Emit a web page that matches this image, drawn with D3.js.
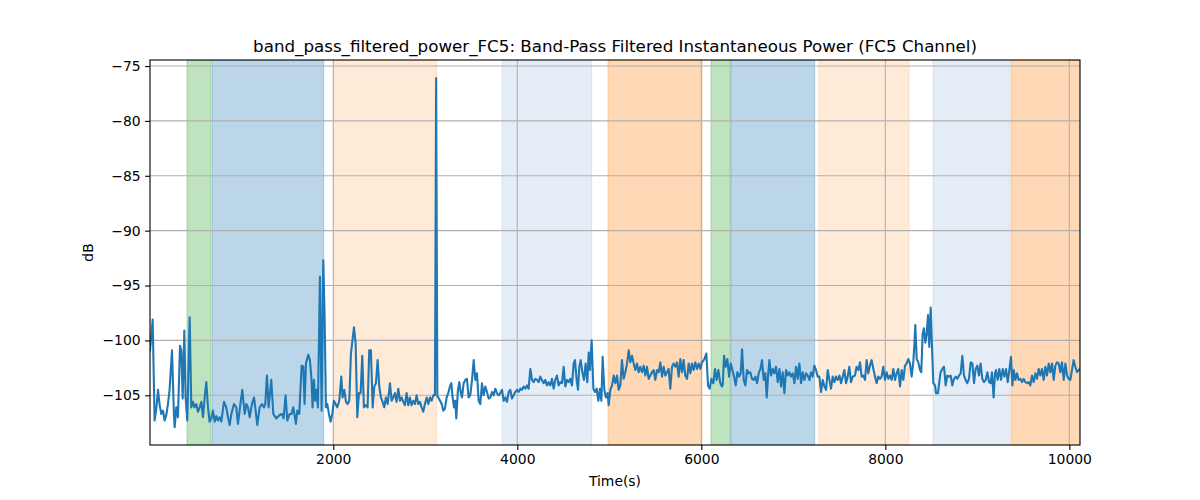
<!DOCTYPE html>
<html>
<head>
<meta charset="utf-8">
<script src="https://cdn.jsdelivr.net/npm/d3@7"></script>
<style>
  body { margin: 0; background: #fff; }
  text { font-family: "DejaVu Sans", sans-serif; fill: #000; }
</style>
</head>
<body>
<div id="chart"></div>
<script>
// time (s) and power (dB)
const fc5Power = [
  [8,-100.9],[37,-98.1],[58,-107.3],[77,-106.2],[95,-104.5],[113,-105.9],[131,-106.7],[149,-106.4],[167,-107.3],[185,-106.8],
  [203,-105.8],[221,-104.5],[247,-100.9],[268,-106.7],[276,-107.9],[294,-106.1],[312,-107.0],[334,-100.5],[348,-100.9],[363,-105.3],
  [381,-99.1],[395,-105.2],[413,-107.3],[439,-97.9],[457,-106.1],[475,-105.6],[493,-106.1],[511,-105.8],[529,-106.5],[548,-106.1],
  [566,-105.6],[584,-107.0],[602,-105.2],[620,-103.8],[638,-106.1],[656,-107.4],[674,-107.1],[692,-106.4],[711,-107.4],[729,-106.9],
  [747,-107.3],[765,-107.0],[783,-107.4],[812,-105.6],[837,-106.1],[856,-107.0],[874,-107.7],[892,-106.7],[921,-105.8],[946,-106.1],
  [964,-107.6],[986,-106.1],[1011,-104.5],[1037,-106.7],[1055,-105.8],[1073,-106.1],[1091,-107.0],[1116,-105.8],[1138,-105.2],[1152,-106.1],
  [1174,-107.7],[1200,-106.1],[1225,-105.8],[1247,-106.1],[1261,-105.8],[1279,-103.2],[1297,-106.1],[1326,-103.6],[1348,-106.7],[1381,-107.1],
  [1417,-106.8],[1442,-106.7],[1460,-107.1],[1482,-105.0],[1500,-107.3],[1526,-106.7],
  [1547,-106.7],[1565,-106.1],[1583,-107.0],[1594,-107.6],[1609,-106.4],[1630,-106.7],[1656,-102.3],[1674,-102.4],[1688,-105.8],[1703,-102.1],
  [1728,-101.3],[1746,-101.8],[1764,-103.6],[1775,-106.1],[1790,-103.6],[1804,-105.5],[1819,-104.5],[1833,-106.1],[1855,-94.2],[1873,-106.4],
  [1891,-92.7],[1906,-97.9],[1920,-106.1],[1935,-105.8],[1953,-106.7],[1971,-107.4],[1989,-106.7],[2007,-105.5],[2025,-105.8],[2043,-106.1],
  [2065,-105.5],[2087,-103.3],[2101,-105.2],[2120,-104.5],[2138,-105.6],[2156,-105.8],[2174,-105.5],[2192,-101.2],[2225,-98.8],[2243,-100.3],
  [2261,-107.0],[2279,-104.8],[2297,-104.8],[2315,-101.4],[2333,-106.1],[2355,-105.9],[2373,-106.1],[2391,-100.9],[2409,-100.9],[2428,-106.1],
  [2446,-104.2],[2464,-103.9],[2482,-101.8],[2500,-104.2],[2518,-105.2],[2536,-105.6],[2554,-106.1],[2572,-105.2],[2591,-105.8],[2616,-103.9],
  [2634,-105.5],[2652,-105.2],[2670,-104.8],[2688,-105.6],[2707,-104.4],[2725,-105.5],[2743,-105.2],[2761,-105.6],[2779,-105.9],[2797,-104.8],
  [2815,-105.9],[2833,-105.2],[2851,-105.9],[2870,-105.5],[2888,-105.8],[2906,-105.0],[2924,-105.8],[2942,-105.6],[2960,-106.1],[2978,-106.5],
  [2996,-105.8],[3015,-105.2],[3033,-105.8],[3051,-105.2],[3069,-105.5],[3087,-105.0],[3105,-105.0],[3118,-76.1],[3131,-105.1],[3142,-105.2],
  [3160,-105.5],[3178,-105.8],[3196,-106.4],[3214,-106.2],[3232,-105.2],[3250,-104.8],[3268,-104.2],[3283,-103.9],[3297,-105.2],[3312,-106.1],
  [3326,-105.5],[3337,-107.1],[3355,-104.5],[3370,-103.8],[3384,-104.7],[3399,-105.2],[3417,-103.9],[3435,-103.6],[3453,-103.5],[3471,-105.2],
  [3489,-105.0],[3508,-103.6],[3526,-101.8],[3544,-103.6],[3562,-103.0],[3580,-105.5],[3598,-105.8],[3616,-103.9],[3634,-105.0],[3652,-104.2],
  [3671,-104.7],[3689,-105.3],[3707,-105.2],[3725,-104.7],[3743,-105.0],[3761,-104.4],[3779,-104.8],[3797,-105.0],[3815,-104.8],[3834,-104.5],
  [3852,-105.5],[3870,-105.2],[3888,-105.6],[3906,-104.7],[3924,-104.5],[3942,-105.3],[3960,-105.0],[3978,-104.7],[3997,-104.5],[4015,-104.7],
  [4033,-104.4],[4051,-104.5],[4069,-104.2],[4087,-104.4],[4105,-104.1],[4123,-104.4],[4142,-102.6],[4160,-103.6],[4178,-103.8],[4196,-103.5],
  [4214,-103.6],[4232,-103.8],[4250,-103.3],[4268,-103.6],[4286,-103.9],[4304,-103.6],[4323,-104.1],[4341,-103.8],[4359,-104.1],[4377,-103.5],
  [4395,-104.4],[4413,-103.6],[4431,-103.2],[4449,-104.1],[4468,-103.8],[4486,-103.9],[4504,-102.4],[4522,-104.2],[4540,-103.6],[4558,-103.8],
  [4576,-103.5],[4594,-104.1],[4613,-102.1],[4627,-101.8],[4645,-103.6],[4660,-104.5],[4674,-102.4],[4689,-101.8],[4707,-102.9],[4725,-103.6],
  [4743,-102.1],[4761,-103.8],[4776,-101.1],[4790,-102.7],[4808,-100.0],[4827,-104.4],[4845,-104.7],[4863,-104.4],[4881,-105.5],[4899,-104.4],
  [4914,-105.5],[4928,-101.5],[4946,-104.5],[4964,-105.2],[4982,-104.8],[4993,-105.9],[5011,-104.5],[5030,-104.1],[5048,-103.2],[5066,-103.9],
  [5084,-103.2],[5102,-104.5],[5120,-104.1],[5138,-101.8],[5156,-103.5],[5174,-102.9],[5193,-102.1],[5211,-100.9],[5229,-102.0],[5247,-101.4],
  [5265,-102.1],[5283,-102.7],[5301,-102.1],[5319,-102.9],[5337,-102.4],[5356,-102.9],[5374,-102.3],[5392,-103.2],[5410,-102.4],[5428,-103.5],
  [5446,-103.2],[5464,-102.9],[5482,-102.7],[5500,-103.6],[5519,-102.7],[5537,-102.9],[5555,-102.0],[5573,-103.3],[5591,-102.4],[5609,-103.2],
  [5627,-102.9],[5645,-102.6],[5663,-104.4],[5682,-102.4],[5700,-102.1],[5718,-102.4],[5736,-102.0],[5754,-103.3],[5772,-101.7],[5790,-102.9],
  [5808,-101.8],[5826,-103.2],[5845,-103.5],[5863,-102.1],[5881,-103.0],[5899,-102.1],[5917,-102.7],[5935,-102.0],[5953,-102.6],[5972,-102.1],
  [5990,-102.6],[6008,-102.0],[6033,-101.7],[6055,-101.2],[6073,-104.1],[6091,-104.4],[6109,-103.5],[6131,-103.9],[6149,-102.6],[6167,-103.6],
  [6186,-102.7],[6204,-103.8],[6222,-104.2],[6233,-104.1],[6247,-101.4],[6265,-102.4],[6283,-101.7],[6302,-103.3],[6320,-102.1],[6338,-102.7],
  [6356,-103.3],[6374,-104.1],[6392,-102.9],[6410,-103.3],[6428,-103.0],[6443,-100.8],[6461,-103.6],[6479,-104.1],[6497,-102.7],[6515,-103.0],
  [6533,-102.9],[6551,-103.5],[6570,-103.6],[6588,-103.3],[6606,-103.9],[6624,-103.0],[6642,-102.6],[6660,-101.8],[6678,-103.6],[6696,-103.0],
  [6711,-105.2],[6725,-103.3],[6740,-101.8],[6758,-103.2],[6776,-102.6],[6794,-103.0],[6812,-102.4],[6831,-103.8],[6849,-102.6],[6867,-104.2],
  [6885,-102.9],[6903,-104.8],[6921,-102.7],[6939,-103.2],[6957,-102.9],[6975,-103.3],[6994,-103.0],[7012,-103.9],[7030,-102.4],[7048,-103.5],
  [7066,-102.1],[7084,-103.9],[7102,-102.9],[7120,-103.6],[7138,-103.0],[7157,-103.2],[7175,-103.6],[7193,-102.9],[7211,-103.3],[7229,-102.3],
  [7247,-102.7],[7265,-103.3],[7283,-103.3],[7301,-104.7],[7320,-103.6],[7338,-104.2],[7356,-104.5],[7374,-102.7],[7392,-103.6],[7410,-104.4],
  [7428,-103.3],[7446,-103.8],[7464,-103.3],[7483,-103.6],[7501,-103.2],[7519,-103.9],[7537,-103.3],[7555,-102.7],[7573,-103.9],[7591,-103.3],
  [7609,-102.4],[7627,-103.8],[7646,-103.3],[7670,-103.2],[7688,-102.4],[7707,-102.7],[7725,-102.0],[7743,-103.3],[7761,-103.2],[7779,-103.6],
  [7797,-101.8],[7815,-103.0],[7833,-102.3],[7851,-101.8],[7870,-102.6],[7888,-103.3],[7906,-103.9],[7924,-103.3],[7942,-103.5],[7960,-103.3],
  [7978,-102.4],[7996,-103.6],[8015,-102.9],[8033,-103.5],[8051,-103.2],[8069,-103.6],[8087,-102.6],[8105,-103.6],[8123,-103.0],[8141,-102.6],
  [8160,-104.2],[8178,-102.7],[8196,-103.6],[8214,-102.3],[8232,-102.1],[8250,-101.7],[8268,-102.1],[8286,-103.3],[8304,-102.0],[8315,-100.5],
  [8326,-98.6],[8341,-101.7],[8359,-102.0],[8377,-102.7],[8391,-102.9],[8406,-99.4],[8420,-98.9],[8435,-100.2],[8449,-99.5],[8464,-97.7],
  [8478,-100.6],[8493,-97.0],[8507,-100.5],[8522,-103.9],[8540,-104.1],[8551,-104.8],[8572,-104.8],[8587,-103.8],[8601,-102.9],[8620,-102.6],
  [8638,-102.4],[8656,-104.1],[8674,-103.2],[8692,-103.3],[8710,-103.2],[8728,-104.1],[8746,-103.5],[8765,-103.3],[8783,-103.5],[8801,-103.2],
  [8819,-103.0],[8837,-101.4],[8855,-103.2],[8873,-103.6],[8891,-103.9],[8909,-103.5],[8928,-102.0],[8946,-102.1],[8964,-103.9],[8982,-102.6],
  [9000,-102.3],[9018,-103.2],[9036,-102.1],[9054,-103.5],[9072,-103.8],[9091,-103.6],[9109,-102.9],[9127,-103.8],[9145,-103.9],[9159,-102.9],
  [9177,-105.2],[9192,-103.0],[9203,-102.7],[9221,-103.6],[9239,-102.6],[9258,-103.6],[9276,-102.6],[9294,-103.3],[9312,-102.6],[9330,-103.8],
  [9348,-102.7],[9366,-101.5],[9381,-104.1],[9395,-102.7],[9413,-103.6],[9431,-103.0],[9450,-103.6],[9468,-103.5],[9486,-103.8],[9504,-103.5],
  [9522,-103.8],[9540,-103.9],[9558,-103.8],[9576,-104.1],[9594,-103.2],[9613,-103.8],[9631,-103.0],[9649,-103.5],[9667,-102.6],[9685,-103.2],
  [9703,-102.6],[9721,-103.6],[9739,-102.4],[9757,-103.2],[9776,-102.1],[9794,-102.9],[9812,-102.1],[9830,-103.6],[9848,-102.3],[9866,-102.0],
  [9884,-102.1],[9902,-102.9],[9920,-102.0],[9939,-103.6],[9957,-102.1],[9975,-103.2],[9993,-103.5],[10011,-103.6],[10029,-102.7],[10047,-101.8],
  [10065,-102.4],[10084,-102.9],[10102,-102.7],[10116,-102.6]
];

// shaded intervals
const spanStart = [410, 682, 2000, 3834, 4986, 6105, 6322, 7276, 8518, 9366];
const spanEnd   = [670, 1896, 3124, 4809, 6008, 6315, 7232, 8258, 9352, 10116];
const spanKind  = ["green", "blue", "lightOrange", "lightBlue", "orange", "green", "blue", "lightOrange", "lightBlue", "orange"];

const xTicks = [2000, 4000, 6000, 8000, 10000];
const yTicks = [-105, -100, -95, -90, -85, -80, -75];
const yLimits = [-109.53, -74.45];

const kindStyle = {
  green:       { color: "#2ca02c", alpha: 0.3 },
  blue:        { color: "#1f77b4", alpha: 0.3 },
  lightOrange: { color: "#ff7f0e", alpha: 0.16 },
  lightBlue:   { color: "#4a86c8", alpha: 0.14 },
  orange:      { color: "#ff7f0e", alpha: 0.3 }
};

const W = 1200, H = 500;
const margin = { top: 60, right: 120, bottom: 55, left: 150 };
const plotW = W - margin.left - margin.right;
const plotH = H - margin.top - margin.bottom;

const svg = d3.select("#chart").append("svg")
  .attr("width", W)
  .attr("height", H);

const x = d3.scaleLinear()
  .domain(d3.extent(fc5Power, d => d[0]))
  .range([margin.left, margin.left + plotW]);

const y = d3.scaleLinear()
  .domain(yLimits)
  .range([margin.top + plotH, margin.top]);

svg.append("clipPath").attr("id", "plot-clip")
  .append("rect")
  .attr("x", margin.left).attr("y", margin.top)
  .attr("width", plotW).attr("height", plotH);

// shaded spans
const spans = spanStart.map((s, i) => ({ start: s, end: spanEnd[i], kind: spanKind[i] }));
svg.append("g").attr("clip-path", "url(#plot-clip)")
  .selectAll("rect")
  .data(spans)
  .join("rect")
  .attr("x", d => x(d.start))
  .attr("width", d => x(d.end) - x(d.start))
  .attr("y", margin.top)
  .attr("height", plotH)
  .attr("fill", d => kindStyle[d.kind].color)
  .attr("fill-opacity", d => kindStyle[d.kind].alpha)
  .attr("stroke", d => kindStyle[d.kind].color)
  .attr("stroke-opacity", d => kindStyle[d.kind].alpha)
  .attr("stroke-width", 1);

// grid
const grid = svg.append("g").attr("stroke", "#b0b0b0").attr("stroke-width", 1.1);
grid.selectAll(".gx").data(xTicks).join("line")
  .attr("x1", d => x(d)).attr("x2", d => x(d))
  .attr("y1", margin.top).attr("y2", margin.top + plotH);
grid.selectAll(".gy").data(yTicks).join("line")
  .attr("x1", margin.left).attr("x2", margin.left + plotW)
  .attr("y1", d => y(d)).attr("y2", d => y(d));

// power line
const line = d3.line()
  .x(d => x(d[0]))
  .y(d => y(d[1]));

svg.append("path")
  .datum(fc5Power)
  .attr("clip-path", "url(#plot-clip)")
  .attr("d", line)
  .attr("fill", "none")
  .attr("stroke", "#1f77b4")
  .attr("stroke-width", 2.1)
  .attr("stroke-linejoin", "round")
  .attr("stroke-linecap", "square");

// axes
const xAxis = d3.axisBottom(x).tickValues(xTicks).tickSize(4.9).tickPadding(4.5).tickFormat(d3.format("d"));
const yAxis = d3.axisLeft(y).tickValues(yTicks).tickSize(4.9).tickPadding(4.5).tickFormat(d => d < 0 ? "\u2212" + Math.abs(d) : d);

const gx = svg.append("g")
  .attr("transform", `translate(0,${margin.top + plotH})`)
  .call(xAxis);
const gy = svg.append("g")
  .attr("transform", `translate(${margin.left},0)`)
  .call(yAxis);

[gx, gy].forEach(g => {
  g.select(".domain").remove();
  g.selectAll("line").attr("stroke", "#000").attr("stroke-width", 1.1);
  g.selectAll("text").attr("font-size", "13.9px").attr("font-family", "DejaVu Sans, sans-serif").attr("fill", "#000");
});

// spines
svg.append("rect")
  .attr("x", margin.left).attr("y", margin.top)
  .attr("width", plotW).attr("height", plotH)
  .attr("fill", "none")
  .attr("stroke", "#000")
  .attr("stroke-width", 1.1);

// labels
svg.append("text")
  .attr("x", margin.left + plotW / 2)
  .attr("y", margin.top - 8)
  .attr("text-anchor", "middle")
  .attr("font-size", "16.7px")
  .text("band_pass_filtered_power_FC5: Band-Pass Filtered Instantaneous Power (FC5 Channel)");

svg.append("text")
  .attr("x", margin.left + plotW / 2)
  .attr("y", 486)
  .attr("text-anchor", "middle")
  .attr("font-size", "13.9px")
  .text("Time(s)");

svg.append("text")
  .attr("transform", `translate(93,${margin.top + plotH / 2}) rotate(-90)`)
  .attr("text-anchor", "middle")
  .attr("font-size", "13.9px")
  .text("dB");
</script>
</body>
</html>
